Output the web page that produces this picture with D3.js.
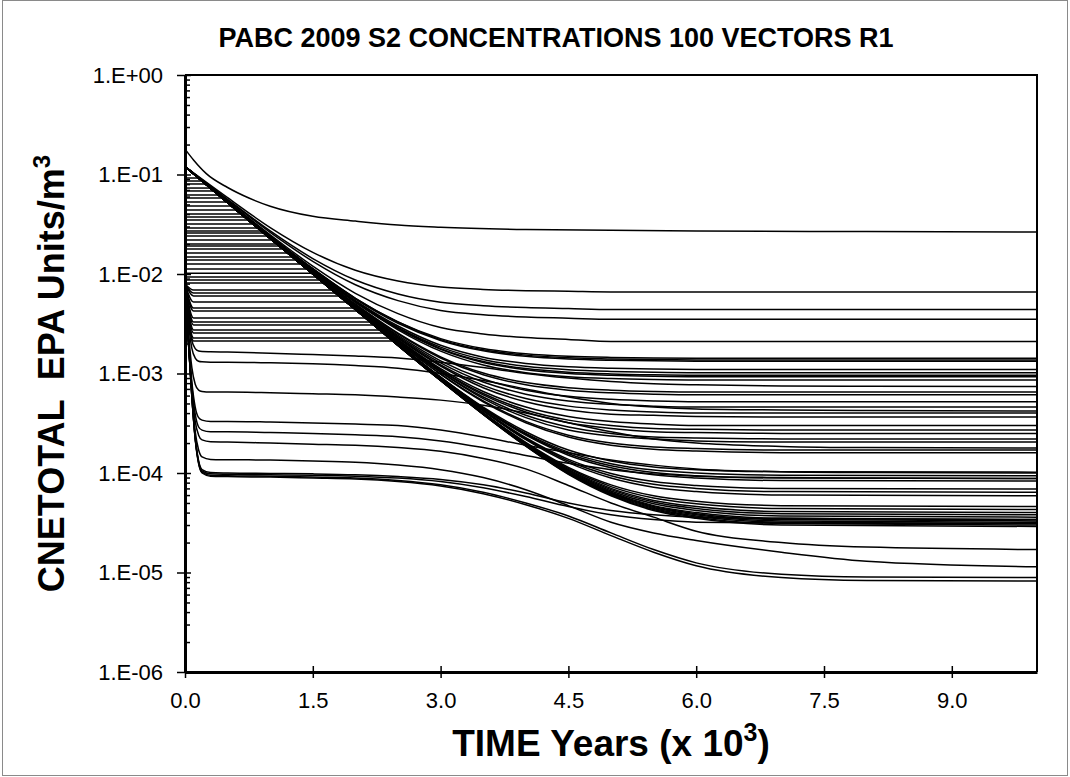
<!DOCTYPE html>
<html>
  <head>
    <meta charset="utf-8">
    <title>PABC 2009 S2 Concentrations</title>
    <style>
      body { margin: 0; background: #fff; }
      text { font-family: "Liberation Sans", Arial, sans-serif; fill: #000; }
      .curve { fill: none; stroke: #000; stroke-width: 1.5px; }
      .axis path, .axis line { stroke: #000; }
    </style>
  </head>
  <body>
    <div id="chart"></div>
    <script src="https://d3js.org/d3.v7.min.js"></script>
    <script>
      // Axis ticks
      const xTicks = [0, 1.5, 3.0, 4.5, 6.0, 7.5, 9.0];
      const yTicks = [1, 1e-1, 1e-2, 1e-3, 1e-4, 1e-5, 1e-6];
      const yTickLabels = ["1.E+00", "1.E-01", "1.E-02", "1.E-03", "1.E-04", "1.E-05", "1.E-06"];
      const minorSteps = [2, 3, 4, 5, 6, 7, 8, 9];

      // Highest vector
      const topTimes = [0, 0.1, 0.25, 0.5, 0.75, 1, 1.5, 2, 2.5, 3, 4, 5, 6, 8, 10];
      const topValues = [0.18, 0.14, 0.102, 0.074, 0.058, 0.048, 0.038, 0.034, 0.031, 0.0295, 0.028, 0.0275, 0.027, 0.0267, 0.0264];

      // Vectors that start near 0.12 and decay to a late-time level
      const fanTimes = [0, 0.5, 1, 1.5, 2, 2.5, 3, 3.5, 4, 4.5, 5, 5.5, 6, 7, 10];
      const fanRows = [
        [0.12, 0.0585, 0.0293, 0.0165, 0.0109, 0.0085, 0.0074, 0.0070, 0.0068, 0.0067, 0.0066, 0.0066, 0.0066, 0.0066, 0.0066],
        [0.12, 0.0563, 0.0271, 0.0143, 0.0087, 0.0063, 0.0052, 0.0048, 0.0046, 0.0045, 0.0044, 0.0044, 0.0044, 0.0044, 0.0044],
        [0.12, 0.0554, 0.0262, 0.0134, 0.0078, 0.0054, 0.0043, 0.0039, 0.0037, 0.0036, 0.0035, 0.0035, 0.0035, 0.0035, 0.0035],
        [0.12, 0.0540, 0.0248, 0.0120, 0.0064, 0.0040, 0.0029, 0.0025, 0.0023, 0.0022, 0.0021, 0.0021, 0.0021, 0.0021, 0.0021],
        [0.12, 0.0533, 0.0241, 0.0113, 0.0057, 0.0033, 0.00224, 0.00178, 0.00158, 0.00149, 0.00145, 0.00143, 0.00142, 0.00142, 0.00142],
        [0.12, 0.0533, 0.0241, 0.0113, 0.0057, 0.0033, 0.00219, 0.00173, 0.00153, 0.00144, 0.0014, 0.00138, 0.00137, 0.00137, 0.00137],
        [0.12, 0.0532, 0.0240, 0.0112, 0.0056, 0.0032, 0.00215, 0.00169, 0.00149, 0.0014, 0.00136, 0.00134, 0.00133, 0.00133, 0.00133],
        [0.12, 0.0530, 0.0238, 0.0110, 0.0054, 0.0030, 0.00192, 0.00146, 0.00126, 0.00117, 0.00113, 0.00111, 0.0011, 0.0011, 0.0011],
        [0.12, 0.0529, 0.0237, 0.0109, 0.0053, 0.0029, 0.00184, 0.00138, 0.00118, 0.00109, 0.00105, 0.00103, 0.00102, 0.00102, 0.00102],
        [0.12, 0.0529, 0.0237, 0.0109, 0.0053, 0.00285, 0.00178, 0.00132, 0.00112, 0.00103, 9.9e-4, 9.7e-4, 9.6e-4, 9.6e-4, 9.6e-4],
        [0.12, 0.0528, 0.0236, 0.0108, 0.0052, 0.00282, 0.00175, 0.00129, 0.00109, 0.0010, 9.6e-4, 9.4e-4, 9.3e-4, 9.3e-4, 9.3e-4],
        [0.12, 0.0528, 0.0236, 0.0108, 0.0052, 0.00275, 0.00168, 0.00122, 0.00102, 9.3e-4, 8.9e-4, 8.7e-4, 8.6e-4, 8.6e-4, 8.6e-4],
        [0.12, 0.0526, 0.0234, 0.0106, 0.0050, 0.00254, 0.00147, 0.00101, 8.1e-4, 7.2e-4, 6.8e-4, 6.6e-4, 6.5e-4, 6.5e-4, 6.5e-4],
        [0.12, 0.0525, 0.0233, 0.0105, 0.0049, 0.0025, 0.00143, 9.7e-4, 7.7e-4, 6.8e-4, 6.4e-4, 6.2e-4, 6.1e-4, 6.1e-4, 6.1e-4],
        [0.12, 0.0524, 0.0232, 0.0104, 0.0048, 0.00241, 0.00134, 8.8e-4, 6.8e-4, 5.9e-4, 5.5e-4, 5.3e-4, 5.2e-4, 5.2e-4, 5.2e-4],
        [0.12, 0.0524, 0.0232, 0.0104, 0.0048, 0.00235, 0.00128, 8.2e-4, 6.2e-4, 5.3e-4, 4.9e-4, 4.7e-4, 4.6e-4, 4.6e-4, 4.6e-4],
        [0.12, 0.0523, 0.0231, 0.0103, 0.0047, 0.00229, 0.00122, 7.6e-4, 5.6e-4, 4.7e-4, 4.3e-4, 4.1e-4, 4.0e-4, 4.0e-4, 4.0e-4],
        [0.12, 0.0523, 0.0231, 0.0103, 0.0047, 0.00226, 0.00119, 7.2e-4, 5.2e-4, 4.3e-4, 3.9e-4, 3.8e-4, 3.7e-4, 3.65e-4, 3.65e-4],
        [0.12, 0.0522, 0.0230, 0.0102, 0.0046, 0.00219, 0.00112, 6.6e-4, 4.6e-4, 3.7e-4, 3.3e-4, 3.1e-4, 3.0e-4, 3.0e-4, 3.0e-4],
        [0.12, 0.0522, 0.0230, 0.0102, 0.0046, 0.00216, 0.00109, 6.3e-4, 4.3e-4, 3.4e-4, 3.0e-4, 2.8e-4, 2.75e-4, 2.7e-4, 2.7e-4],
        [0.12, 0.0521, 0.0229, 0.0101, 0.0046, 0.00214, 0.00107, 6.1e-4, 4.1e-4, 3.2e-4, 2.8e-4, 2.6e-4, 2.55e-4, 2.5e-4, 2.5e-4],
        [0.12, 0.0521, 0.0229, 0.0101, 0.0045, 0.00211, 0.00104, 5.8e-4, 3.8e-4, 2.9e-4, 2.5e-4, 2.3e-4, 2.25e-4, 2.2e-4, 2.2e-4],
        [0.12, 0.0521, 0.0229, 0.0101, 0.0045, 0.0021, 0.00103, 5.6e-4, 3.6e-4, 2.7e-4, 2.35e-4, 2.2e-4, 2.1e-4, 2.05e-4, 2.05e-4],
        [0.12, 0.0521, 0.0229, 0.0101, 0.0045, 0.00206, 9.9e-4, 5.3e-4, 3.3e-4, 2.4e-4, 2.0e-4, 1.83e-4, 1.76e-4, 1.7e-4, 1.7e-4],
        [0.12, 0.0521, 0.0229, 0.0101, 0.0045, 0.00205, 9.8e-4, 5.2e-4, 3.2e-4, 2.3e-4, 1.9e-4, 1.73e-4, 1.66e-4, 1.6e-4, 1.6e-4],
        [0.12, 0.0520, 0.0228, 0.0100, 0.0044, 0.0020, 9.2e-4, 4.6e-4, 2.6e-4, 1.7e-4, 1.32e-4, 1.15e-4, 1.08e-4, 1.03e-4, 1.02e-4],
        [0.12, 0.0520, 0.0228, 0.0100, 0.0044, 0.00198, 9.2e-4, 4.5e-4, 2.5e-4, 1.62e-4, 1.24e-4, 1.07e-4, 1.0e-4, 9.5e-5, 9.4e-5],
        [0.12, 0.0520, 0.0228, 0.0100, 0.0044, 0.00198, 9.1e-4, 4.5e-4, 2.45e-4, 1.56e-4, 1.18e-4, 1.01e-4, 9.4e-5, 8.9e-5, 8.8e-5],
        [0.12, 0.0520, 0.0228, 0.0100, 0.0044, 0.00197, 9.1e-4, 4.4e-4, 2.4e-4, 1.51e-4, 1.13e-4, 9.6e-5, 8.9e-5, 8.4e-5, 8.3e-5],
        [0.12, 0.0520, 0.0228, 0.0100, 0.0044, 0.00196, 8.9e-4, 4.3e-4, 2.26e-4, 1.37e-4, 9.9e-5, 8.2e-5, 7.5e-5, 7.0e-5, 6.9e-5],
        [0.12, 0.0520, 0.0228, 0.0100, 0.0044, 0.00195, 8.9e-4, 4.2e-4, 2.21e-4, 1.32e-4, 9.4e-5, 7.7e-5, 7.0e-5, 6.5e-5, 6.4e-5],
        [0.12, 0.0520, 0.0228, 0.0100, 0.0044, 0.00195, 8.8e-4, 4.2e-4, 2.16e-4, 1.27e-4, 8.9e-5, 7.2e-5, 6.5e-5, 6.0e-5, 5.9e-5],
        [0.12, 0.0520, 0.0228, 0.0100, 0.0044, 0.00194, 8.7e-4, 4.05e-4, 2.03e-4, 1.14e-4, 7.6e-5, 5.9e-5, 5.2e-5, 4.7e-5, 4.6e-5],
        [0.12, 0.0520, 0.0228, 0.0100, 0.0044, 0.00193, 8.65e-4, 4.0e-4, 2.0e-4, 1.11e-4, 7.3e-5, 5.6e-5, 4.9e-5, 4.4e-5, 4.3e-5],
        [0.12, 0.0520, 0.0228, 0.0100, 0.0044, 0.00193, 8.6e-4, 4.0e-4, 1.97e-4, 1.08e-4, 7.0e-5, 5.3e-5, 4.6e-5, 4.1e-5, 4.0e-5],
        [0.12, 0.0520, 0.0228, 0.0100, 0.0044, 0.00193, 8.6e-4, 3.97e-4, 1.95e-4, 1.06e-4, 6.8e-5, 5.1e-5, 4.4e-5, 3.9e-5, 3.8e-5],
        [0.12, 0.0520, 0.0228, 0.0100, 0.0044, 0.00193, 8.6e-4, 3.95e-4, 1.93e-4, 1.04e-4, 6.6e-5, 4.9e-5, 4.2e-5, 3.7e-5, 3.6e-5],
        [0.12, 0.0520, 0.0228, 0.0100, 0.0044, 0.00192, 8.55e-4, 3.93e-4, 1.91e-4, 1.02e-4, 6.4e-5, 4.7e-5, 4.0e-5, 3.5e-5, 3.4e-5],
        [0.12, 0.0520, 0.0228, 0.0100, 0.0044, 0.00192, 8.55e-4, 3.92e-4, 1.9e-4, 1.01e-4, 6.3e-5, 4.6e-5, 3.9e-5, 3.4e-5, 3.3e-5],
        [0.12, 0.0520, 0.0228, 0.0100, 0.0044, 0.00192, 8.54e-4, 3.91e-4, 1.89e-4, 1.0e-4, 6.2e-5, 4.5e-5, 3.8e-5, 3.3e-5, 3.2e-5],
        [0.12, 0.0520, 0.0228, 0.0100, 0.0044, 0.00192, 8.53e-4, 3.9e-4, 1.88e-4, 9.9e-5, 6.1e-5, 4.4e-5, 3.7e-5, 3.2e-5, 3.1e-5],
        [0.12, 0.0520, 0.0228, 0.0100, 0.0044, 0.00192, 8.52e-4, 3.89e-4, 1.87e-4, 9.8e-5, 6.0e-5, 4.3e-5, 3.6e-5, 3.1e-5, 3.0e-5],
        [0.12, 0.0520, 0.0228, 0.0100, 0.0044, 0.00192, 8.51e-4, 3.88e-4, 1.86e-4, 9.7e-5, 5.9e-5, 4.2e-5, 3.5e-5, 3.0e-5, 2.9e-5]
      ];

      // Vectors held at a constant level until they meet the decay front
      const flatLevels = [0.0922, 0.086, 0.0803, 0.0731, 0.0683, 0.0622, 0.058, 0.0529, 0.0482, 0.044,
        0.0401, 0.0374, 0.0349, 0.0318, 0.029, 0.0271, 0.0258, 0.0241, 0.022, 0.02,
        0.0191, 0.0178, 0.0163, 0.0148, 0.0138, 0.0126, 0.0112, 0.0102, 0.00933, 0.0087,
        0.00812, 0.0069, 0.00644, 0.00601, 0.00523, 0.00455, 0.00425, 0.00361, 0.00329, 0.00307,
        0.00274, 0.00255, 0.00227, 0.00212];
      const flatEnds = [0.154, 0.196, 0.237, 0.293, 0.335, 0.391, 0.433, 0.489, 0.545, 0.601,
        0.656, 0.698, 0.74, 0.796, 0.852, 0.894, 0.922, 0.964, 1.02, 1.075,
        1.103, 1.145, 1.201, 1.257, 1.299, 1.355, 1.425, 1.48, 1.536, 1.578,
        1.62, 1.718, 1.76, 1.802, 1.885, 1.969, 2.011, 2.109, 2.165, 2.207,
        2.277, 2.318, 2.388, 2.43];
      const flatStarts = [0.0922, 0.086, 0.0803, 0.0731, 0.0683, 0.0622, 0.058, 0.0529, 0.0482, 0.044,
        0.0401, 0.0374, 0.0349, 0.0318, 0.029, 0.0271, 0.0258, 0.0241, 0.022, 0.02,
        0.0191, 0.0178, 0.0163, 0.0148, 0.0138, 0.0126, 0.0112, 0.0102, 0.00933, 0.0087,
        0.00812, 0.008, 0.008, 0.008, 0.008, 0.008, 0.008, 0.008, 0.008, 0.008,
        0.008, 0.008, 0.008, 0.008];

      // Vectors with an early spike, a plateau, then a late decline
      const spikeTimes = [0, 0.04, 0.08, 0.12, 0.16, 0.2, 0.3, 0.5, 1, 1.5, 2, 2.5, 3, 3.5, 4, 4.5, 5, 5.5, 6, 7, 8, 10];
      const spikeRows = [
        [9.6e-3, 3.65e-3, 2.15e-3, 1.78e-3, 1.68e-3, 1.66e-3, 1.65e-3, 1.64e-3, 1.6e-3, 1.55e-3, 1.5e-3, 1.43e-3, 1.3e-3, 1.15e-3, 1.0e-3, 9.0e-4, 8.3e-4, 7.9e-4, 7.7e-4, 7.5e-4, 7.45e-4, 7.4e-4],
        [9.3e-3, 3.3e-3, 1.8e-3, 1.43e-3, 1.33e-3, 1.31e-3, 1.3e-3, 1.3e-3, 1.28e-3, 1.25e-3, 1.2e-3, 1.13e-3, 1.0e-3, 8.5e-4, 7.0e-4, 5.8e-4, 5.0e-4, 4.6e-4, 4.4e-4, 4.3e-4, 4.25e-4, 4.2e-4],
        [8.65e-3, 2.65e-3, 1.15e-3, 7.8e-4, 6.8e-4, 6.6e-4, 6.5e-4, 6.5e-4, 6.4e-4, 6.25e-4, 6.1e-4, 5.8e-4, 5.4e-4, 4.8e-4, 4.0e-4, 3.2e-4, 2.6e-4, 2.2e-4, 2.0e-4, 1.85e-4, 1.8e-4, 1.78e-4],
        [8.3e-3, 2.33e-3, 8.3e-4, 4.6e-4, 3.6e-4, 3.4e-4, 3.3e-4, 3.3e-4, 3.25e-4, 3.18e-4, 3.1e-4, 3.0e-4, 2.7e-4, 2.3e-4, 1.9e-4, 1.6e-4, 1.35e-4, 1.2e-4, 1.1e-4, 1.03e-4, 1.01e-4, 1.0e-4],
        [8.3e-3, 2.26e-3, 7.6e-4, 3.9e-4, 2.9e-4, 2.7e-4, 2.6e-4, 2.6e-4, 2.55e-4, 2.5e-4, 2.42e-4, 2.32e-4, 2.1e-4, 1.8e-4, 1.5e-4, 1.25e-4, 1.08e-4, 9.8e-5, 9.3e-5, 9.0e-5, 8.9e-5, 8.8e-5],
        [8.2e-3, 2.2e-3, 7.05e-4, 3.3e-4, 2.4e-4, 2.15e-4, 2.06e-4, 2.05e-4, 2.0e-4, 1.95e-4, 1.9e-4, 1.8e-4, 1.65e-4, 1.4e-4, 1.1e-4, 7.5e-5, 5.0e-5, 3.6e-5, 2.6e-5, 2.0e-5, 1.8e-5, 1.7e-5],
        [8.1e-3, 2.14e-3, 6.4e-4, 2.6e-4, 1.7e-4, 1.45e-4, 1.37e-4, 1.36e-4, 1.35e-4, 1.32e-4, 1.28e-4, 1.2e-4, 1.08e-4, 9.0e-5, 6.8e-5, 4.7e-5, 3.2e-5, 2.5e-5, 2.1e-5, 1.6e-5, 1.3e-5, 1.14e-5],
        [8.1e-3, 2.1e-3, 6.0e-4, 2.27e-4, 1.32e-4, 1.08e-4, 1.01e-4, 1.0e-4, 9.9e-5, 9.8e-5, 9.6e-5, 9.2e-5, 8.6e-5, 7.6e-5, 6.3e-5, 5.0e-5, 4.2e-5, 3.8e-5, 3.6e-5, 3.5e-5, 3.45e-5, 3.4e-5],
        [8.1e-3, 2.1e-3, 6.0e-4, 2.24e-4, 1.29e-4, 1.05e-4, 9.8e-5, 9.7e-5, 9.6e-5, 9.5e-5, 9.3e-5, 8.9e-5, 8.2e-5, 7.1e-5, 5.8e-5, 4.6e-5, 3.8e-5, 3.4e-5, 3.2e-5, 3.15e-5, 3.1e-5, 3.1e-5],
        [8.1e-3, 2.1e-3, 5.9e-4, 2.2e-4, 1.26e-4, 1.02e-4, 9.5e-5, 9.4e-5, 9.3e-5, 9.1e-5, 8.9e-5, 8.4e-5, 7.6e-5, 6.4e-5, 5.0e-5, 3.7e-5, 2.5e-5, 1.7e-5, 1.25e-5, 9.6e-6, 9.0e-6, 8.9e-6],
        [8.1e-3, 2.1e-3, 5.9e-4, 2.19e-4, 1.24e-4, 1.0e-4, 9.3e-5, 9.2e-5, 9.1e-5, 8.9e-5, 8.7e-5, 8.2e-5, 7.4e-5, 6.2e-5, 4.8e-5, 3.5e-5, 2.35e-5, 1.6e-5, 1.17e-5, 8.9e-6, 8.3e-6, 8.2e-6]
      ];

      const width = 1070, height = 777;
      const plot = { left: 185, right: 1037, top: 75, bottom: 672 };

      const svg = d3.select("#chart").append("svg")
          .attr("width", width)
          .attr("height", height);

      // outer frame
      svg.append("rect")
          .attr("x", 2.5).attr("y", 0.5)
          .attr("width", width - 5).attr("height", height - 2)
          .attr("fill", "none").attr("stroke", "#8a8a8a").attr("stroke-width", 1);

      const x = d3.scaleLinear().domain([0, 10]).range([plot.left, plot.right]);
      const y = d3.scaleLog().domain([1e-6, 1]).range([plot.bottom, plot.top]);

      svg.append("clipPath").attr("id", "clip")
        .append("rect")
          .attr("x", plot.left).attr("y", plot.top)
          .attr("width", plot.right - plot.left).attr("height", plot.bottom - plot.top);

      const line = d3.line()
          .x(d => x(d[0]))
          .y(d => y(d[1]))
          .curve(d3.curveMonotoneX);

      // assemble all series as [t, value] pairs
      const series = [];
      series.push(topTimes.map((t, i) => [t, topValues[i]]));
      fanRows.forEach(row => series.push(fanTimes.map((t, i) => [t, row[i]])));
      flatLevels.forEach((lv, i) => {
        const pts = flatStarts[i] > lv
          ? [[0, flatStarts[i]], [0.1, lv], [flatEnds[i], lv]]
          : [[0, lv], [flatEnds[i], lv]];
        series.push(pts);
      });
      spikeRows.forEach(row => series.push(spikeTimes.map((t, i) => [t, row[i]])));

      svg.append("g")
          .attr("clip-path", "url(#clip)")
        .selectAll("path")
        .data(series)
        .join("path")
          .attr("class", "curve")
          .attr("d", line);

      // plot frame (top and right)
      svg.append("path")
          .attr("d", `M${plot.left},${plot.top}H${plot.right}V${plot.bottom}`)
          .attr("fill", "none").attr("stroke", "#000").attr("stroke-width", 2);

      // minor y ticks
      const minorTicks = [];
      yTicks.slice(0, -1).forEach(dec => minorSteps.forEach(m => minorTicks.push(dec / 10 * m)));

      svg.append("g")
          .attr("transform", `translate(${plot.left},0)`)
          .call(d3.axisRight(y).tickValues(minorTicks).tickSize(5).tickFormat(""))
          .call(g => g.select(".domain").remove())
          .call(g => g.selectAll("line").attr("stroke-width", 1.5));

      svg.append("g")
          .attr("transform", `translate(${plot.left},0)`)
          .call(d3.axisRight(y).tickValues(yTicks).tickSize(6).tickFormat(""))
          .call(g => g.select(".domain").remove())
          .call(g => g.selectAll("line").attr("stroke-width", 1.5));

      // left axis
      const yAxis = svg.append("g")
          .attr("class", "axis")
          .attr("transform", `translate(${plot.left},0)`)
          .call(d3.axisLeft(y).tickValues(yTicks).tickSize(8).tickSizeOuter(0).tickPadding(14)
            .tickFormat((d, i) => yTickLabels[i]));
      yAxis.select(".domain").attr("stroke-width", 3);
      yAxis.selectAll("line").attr("stroke-width", 1.5);
      yAxis.selectAll("text").style("font-size", "22px");

      // bottom axis with ticks crossing the line
      svg.append("g")
          .attr("transform", `translate(0,${plot.bottom})`)
          .call(d3.axisTop(x).tickValues(xTicks).tickSize(6).tickFormat(""))
          .call(g => g.select(".domain").remove())
          .call(g => g.selectAll("line").attr("stroke-width", 1.5));

      const xAxis = svg.append("g")
          .attr("class", "axis")
          .attr("transform", `translate(0,${plot.bottom})`)
          .call(d3.axisBottom(x).tickValues(xTicks).tickSize(6).tickSizeOuter(0).tickPadding(14)
            .tickFormat(d3.format(".1f")));
      xAxis.select(".domain").attr("stroke-width", 3);
      xAxis.selectAll("line").attr("stroke-width", 1.5);
      xAxis.selectAll("text").style("font-size", "22px");

      // chart title
      svg.append("text")
          .attr("x", 556).attr("y", 47)
          .attr("text-anchor", "middle")
          .style("font-size", "27px").style("font-weight", "bold")
          .text("PABC 2009 S2 CONCENTRATIONS 100 VECTORS R1");

      // x axis title
      const xt = svg.append("text")
          .attr("x", (plot.left + plot.right) / 2).attr("y", 756)
          .attr("text-anchor", "middle")
          .style("font-size", "37px").style("font-weight", "bold");
      xt.append("tspan").text("TIME Years (x 10");
      xt.append("tspan").attr("dy", -15).style("font-size", "25px").text("3");
      xt.append("tspan").attr("dy", 15).text(")");

      // y axis title
      const yt = svg.append("text")
          .attr("transform", `translate(64,${(plot.top + plot.bottom) / 2}) rotate(-90)`)
          .attr("text-anchor", "middle")
          .style("font-size", "36px").style("font-weight", "bold")
          .style("white-space", "pre");
      yt.append("tspan").text("CNETOTAL  EPA Units/m");
      yt.append("tspan").attr("dy", -14).style("font-size", "24px").text("3");
    </script>
  </body>
</html>
